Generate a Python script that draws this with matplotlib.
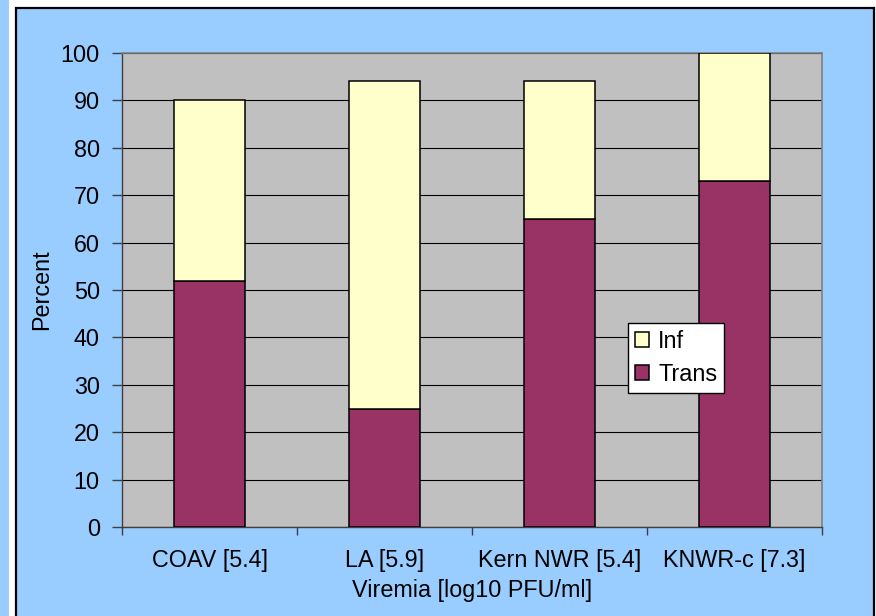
import matplotlib
matplotlib.use("Agg")
import matplotlib.pyplot as plt
from matplotlib.patches import Rectangle, Patch
import numpy as np

# data
categories = ["COAV [5.4]", "LA [5.9]", "Kern NWR [5.4]", "KNWR-c [7.3]"]
trans = [52, 25, 65, 73]
inf = [38, 69, 29, 27]   # stacked on top of trans
y_ticks = [0, 10, 20, 30, 40, 50, 60, 70, 80, 90, 100]

# colours
FIG_BG = "#99CCFF"
PLOT_BG = "#C0C0C0"
TRANS_COLOR = "#993366"
INF_COLOR = "#FFFFCC"

W, H = 876, 616
plt.rcParams['font.family'] = ['Liberation Sans', 'DejaVu Sans']
FS = 16.8

fig = plt.figure(figsize=(W / 100, H / 100), dpi=100, facecolor=FIG_BG)

# white strip + bordered chart area behind everything
fig.add_artist(Rectangle((9 / W, 0), 1 - 9 / W, 1, transform=fig.transFigure,
                         facecolor="white", edgecolor="none", zorder=-3))
fig.add_artist(Rectangle((16 / W, -0.05), (874 - 16) / W, (H - 8) / H + 0.05,
                         transform=fig.transFigure, facecolor=FIG_BG,
                         edgecolor="black", linewidth=1.6, zorder=-2))

ax = fig.add_axes([122 / W, (H - 527) / H, 700 / W, 474 / H])
ax.set_facecolor(PLOT_BG)

x = np.arange(len(categories))
width = 0.41
ax.bar(x, trans, width, color=TRANS_COLOR, edgecolor="black", linewidth=1.1, zorder=3)
ax.bar(x, inf, width, bottom=trans, color=INF_COLOR, edgecolor="black", linewidth=1.1, zorder=3)

ax.set_xlim(-0.5, len(categories) - 0.5)
ax.set_ylim(0, 100)
ax.set_yticks(y_ticks)
ax.yaxis.grid(True, color="black", linewidth=0.8, zorder=1)
ax.set_axisbelow(True)

# category labels centred, tick marks on the category boundaries
ax.set_xticks(x)
ax.set_xticklabels(categories, fontsize=FS)
ax.set_xticks(np.arange(-0.5, len(categories)), minor=True)
ax.tick_params(axis="x", which="major", length=0, pad=16)
ax.tick_params(axis="x", which="minor", length=6, width=1, color="#404040", direction="out")
ax.tick_params(axis="y", length=7, width=1, color="#404040", direction="out", pad=9, labelsize=FS)

for side in ["top", "right"]:
    ax.spines[side].set_color("#808080")
    ax.spines[side].set_linewidth(1.2)
for side in ["left", "bottom"]:
    ax.spines[side].set_color("#404040")
    ax.spines[side].set_linewidth(1.0)

ax.set_ylabel("Percent", fontsize=FS)
ax.yaxis.set_label_coords(-0.099, 0.5)
ax.set_xlabel("Viremia [log10 PFU/ml]", fontsize=FS)
ax.xaxis.set_label_coords(0.5, -0.11)

handles = [Patch(facecolor=INF_COLOR, edgecolor="black", linewidth=1.1),
           Patch(facecolor=TRANS_COLOR, edgecolor="black", linewidth=1.1)]
leg = ax.legend(handles, ["Inf", "Trans"], loc="lower left",
                bbox_to_anchor=((628 - 122) / 700, (527 - 393) / 474),
                fontsize=FS, frameon=True, fancybox=False, framealpha=1,
                edgecolor="black", handlelength=0.6, handleheight=0.6,
                handletextpad=0.4, labelspacing=0.45, borderpad=0.3,
                borderaxespad=0)
leg.get_frame().set_linewidth(1.0)
leg.set_zorder(5)

fig.savefig("out.png", dpi=100, facecolor=FIG_BG)
